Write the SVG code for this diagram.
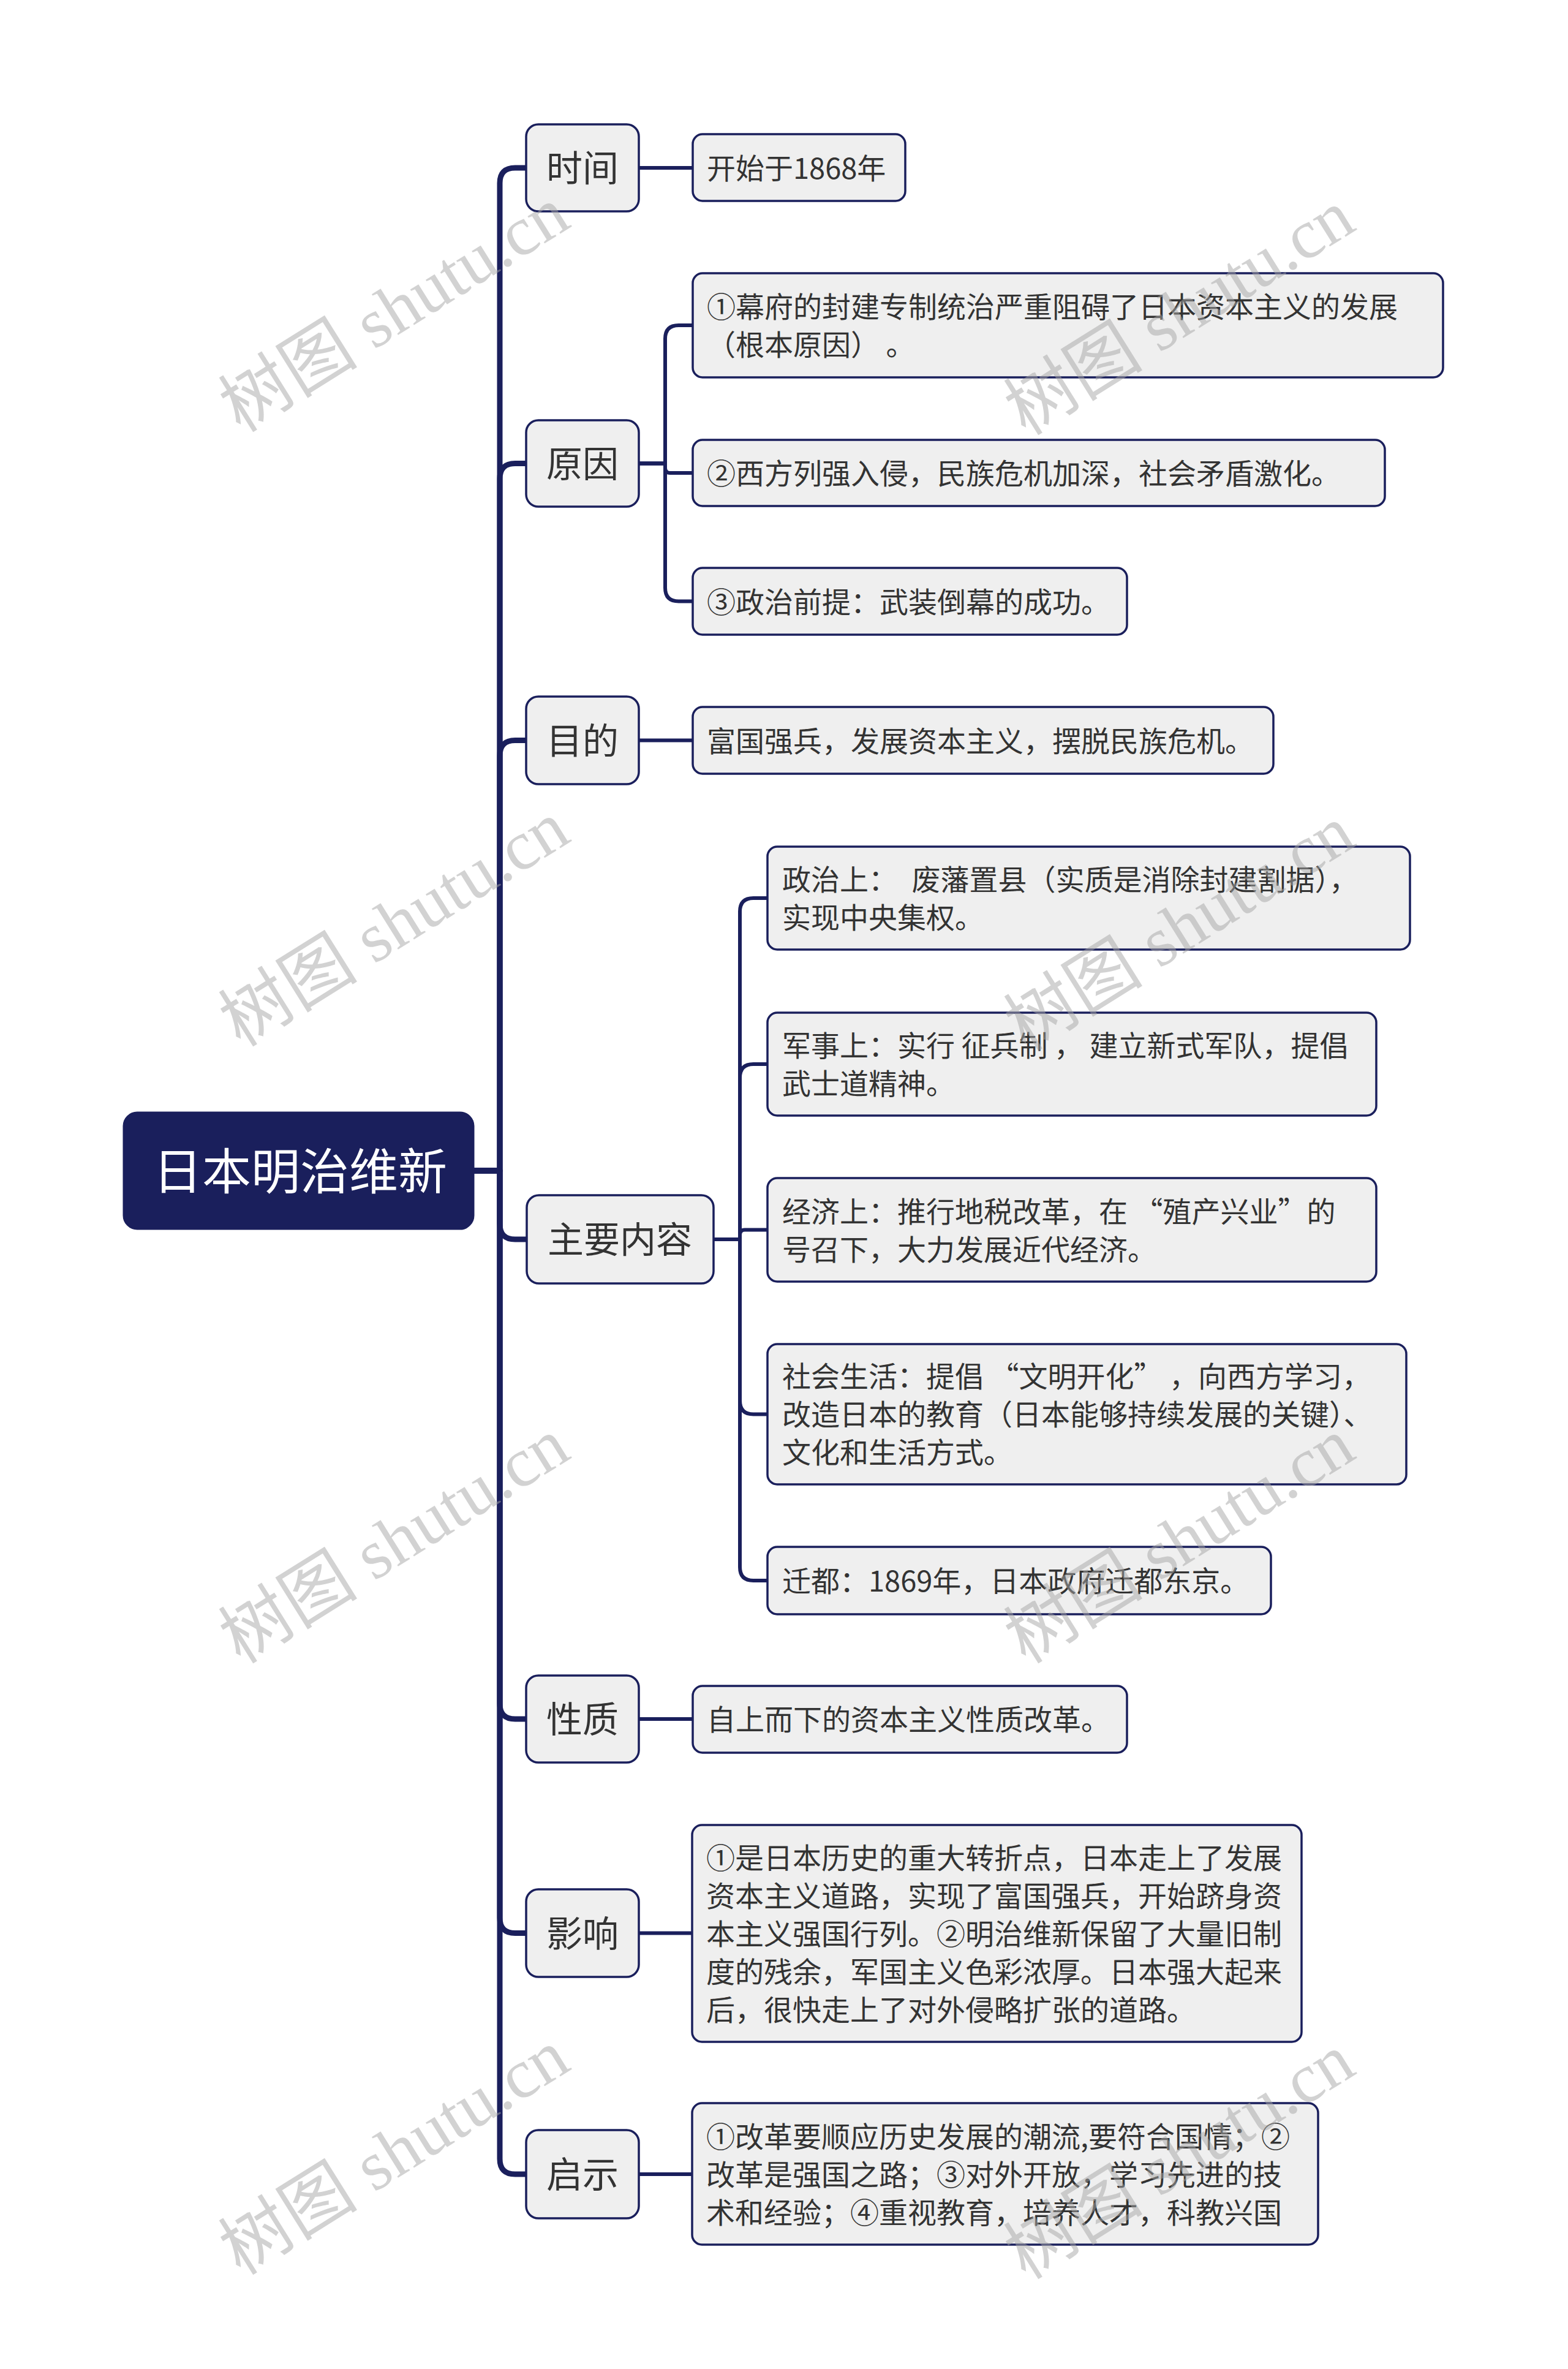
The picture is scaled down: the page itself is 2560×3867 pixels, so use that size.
<svg xmlns="http://www.w3.org/2000/svg" width="2560" height="3867" viewBox="0 0 2560 3867">
<style>
.bg{fill:#ffffff}
.root rect{fill:#1a1f5c;stroke:#1a1f5c;stroke-width:3}
.root text{fill:#ffffff;font-family:"Noto Sans CJK SC","Noto Sans",sans-serif;font-size:80px;text-anchor:middle}
.l1 rect{fill:#efefef;stroke:#1a1f5c;stroke-width:3.5}
.l1 text{fill:#333333;font-family:"Noto Sans CJK SC","Noto Sans",sans-serif;font-size:59px;text-anchor:middle}
.l2 rect{fill:#efefef;stroke:#1a1f5c;stroke-width:3.5}
.l2 text{fill:#333333;font-family:"Noto Sans CJK SC","Noto Sans",sans-serif;font-size:47px}
.c1{fill:none;stroke:#1a1f5c;stroke-width:9;stroke-linecap:round;stroke-linejoin:round}
.c2{fill:none;stroke:#1a1f5c;stroke-width:6;stroke-linecap:round;stroke-linejoin:round}
.wm text{fill:#a6a6a6;fill-opacity:0.5;font-family:"Liberation Serif","Noto Sans CJK SC",serif;font-size:114px;text-anchor:middle}
</style>
<rect class="bg" x="0" y="0" width="2560" height="3867"/>

<g id="connectors">
  <path class="c1" d="M773 1911 H816 V299 Q816 274 841 274 H860"/>
  <path class="c1" d="M773 1911 H816 V781.5 Q816 756.5 841 756.5 H860"/>
  <path class="c1" d="M773 1911 H816 V1233.5 Q816 1208.5 841 1208.5 H860"/>
  <path class="c1" d="M773 1911 H816 V1998 Q816 2023 841 2023 H860"/>
  <path class="c1" d="M773 1911 H816 V2781 Q816 2806 841 2806 H860"/>
  <path class="c1" d="M773 1911 H816 V3130.5 Q816 3155.5 841 3155.5 H860"/>
  <path class="c1" d="M773 1911 H816 V3524 Q816 3549 841 3549 H860"/>

  <path class="c2" d="M1043 274 H1131"/>
  <path class="c2" d="M1043 756.5 H1086 V553 Q1086 531 1108 531 H1131"/>
  <path class="c2" d="M1043 756.5 H1086 V764 Q1086 772 1094 772 H1131"/>
  <path class="c2" d="M1043 756.5 H1086 V959.5 Q1086 981.5 1108 981.5 H1131"/>
  <path class="c2" d="M1043 1208.5 H1131"/>
  <path class="c2" d="M1165 2023 H1208 V1488 Q1208 1466 1230 1466 H1253"/>
  <path class="c2" d="M1165 2023 H1208 V1759 Q1208 1737 1230 1737 H1253"/>
  <path class="c2" d="M1165 2023 H1208 V2015.5 Q1208 2007.5 1216 2007.5 H1253"/>
  <path class="c2" d="M1165 2023 H1208 V2286.5 Q1208 2308.5 1230 2308.5 H1253"/>
  <path class="c2" d="M1165 2023 H1208 V2558 Q1208 2580 1230 2580 H1253"/>
  <path class="c2" d="M1043 2806 H1131"/>
  <path class="c2" d="M1043 3155.5 H1130"/>
  <path class="c2" d="M1043 3549 H1130"/>
</g>

<g id="root" class="root">
  <rect x="202" y="1816" width="571" height="190" rx="22"/>
  <text x="490" y="1941">日本明治维新</text>
</g>

<g id="n-time" class="l1">
  <rect x="859" y="203" width="184" height="142" rx="20"/>
  <text x="951" y="296">时间</text>
</g>
<g id="n-cause" class="l1">
  <rect x="859" y="686" width="184" height="141" rx="20"/>
  <text x="951" y="779">原因</text>
</g>
<g id="n-goal" class="l1">
  <rect x="859" y="1137" width="184" height="143" rx="20"/>
  <text x="951" y="1231">目的</text>
</g>
<g id="n-content" class="l1">
  <rect x="860" y="1951" width="305" height="144" rx="20"/>
  <text x="1012" y="2045">主要内容</text>
</g>
<g id="n-nature" class="l1">
  <rect x="859" y="2735" width="184" height="142" rx="20"/>
  <text x="951" y="2828">性质</text>
</g>
<g id="n-impact" class="l1">
  <rect x="859" y="3084" width="184" height="143" rx="20"/>
  <text x="951" y="3178">影响</text>
</g>
<g id="n-lesson" class="l1">
  <rect x="859" y="3477" width="184" height="144" rx="20"/>
  <text x="951" y="3571">启示</text>
</g>

<g id="t-time" class="l2">
  <rect x="1131" y="219" width="347" height="109" rx="16"/>
  <text x="1154" y="292">开始于1868年</text>
</g>
<g id="t-cause1" class="l2">
  <rect x="1131" y="446" width="1225" height="170" rx="16"/>
  <text x="1154" y="518">①幕府的封建专制统治严重阻碍了日本资本主义的发展</text>
  <text x="1154" y="580" xml:space="preserve">（根本原因） 。</text>
</g>
<g id="t-cause2" class="l2">
  <rect x="1131" y="718" width="1130" height="108" rx="16"/>
  <text x="1154" y="790">②西方列强入侵，民族危机加深，社会矛盾激化。</text>
</g>
<g id="t-cause3" class="l2">
  <rect x="1131" y="927" width="709" height="109" rx="16"/>
  <text x="1154" y="1000">③政治前提：武装倒幕的成功。</text>
</g>
<g id="t-goal" class="l2">
  <rect x="1131" y="1154" width="948" height="109" rx="16"/>
  <text x="1154" y="1227">富国强兵，发展资本主义，摆脱民族危机。</text>
</g>
<g id="t-politics" class="l2">
  <rect x="1253" y="1382" width="1049" height="168" rx="16"/>
  <text x="1277" y="1453" xml:space="preserve">政治上：　废藩置县（实质是消除封建割据），</text>
  <text x="1277" y="1515">实现中央集权。</text>
</g>
<g id="t-military" class="l2">
  <rect x="1253" y="1653" width="994" height="168" rx="16"/>
  <text x="1277" y="1724" xml:space="preserve">军事上：实行 征兵制 ， 建立新式军队，提倡</text>
  <text x="1277" y="1786">武士道精神。</text>
</g>
<g id="t-economy" class="l2">
  <rect x="1253" y="1923" width="994" height="169" rx="16"/>
  <text x="1277" y="1995" xml:space="preserve">经济上：推行地税改革，在 “殖产兴业”的</text>
  <text x="1277" y="2057">号召下，大力发展近代经济。</text>
</g>
<g id="t-society" class="l2">
  <rect x="1253" y="2194" width="1043" height="229" rx="16"/>
  <text x="1277" y="2264" xml:space="preserve">社会生活：提倡 “文明开化” ，向西方学习，</text>
  <text x="1277" y="2326">改造日本的教育（日本能够持续发展的关键）、</text>
  <text x="1277" y="2388">文化和生活方式。</text>
</g>
<g id="t-capital" class="l2">
  <rect x="1253" y="2525" width="822" height="110" rx="16"/>
  <text x="1277" y="2598">迁都：1869年，日本政府迁都东京。</text>
</g>
<g id="t-nature" class="l2">
  <rect x="1131" y="2752" width="709" height="109" rx="16"/>
  <text x="1154" y="2824">自上而下的资本主义性质改革。</text>
</g>
<g id="t-impact" class="l2">
  <rect x="1130" y="2979" width="995" height="354" rx="16"/>
  <text x="1153" y="3050">①是日本历史的重大转折点，日本走上了发展</text>
  <text x="1153" y="3112">资本主义道路，实现了富国强兵，开始跻身资</text>
  <text x="1153" y="3174">本主义强国行列。②明治维新保留了大量旧制</text>
  <text x="1153" y="3236">度的残余，军国主义色彩浓厚。日本强大起来</text>
  <text x="1153" y="3298">后，很快走上了对外侵略扩张的道路。</text>
</g>
<g id="t-lesson" class="l2">
  <rect x="1130" y="3433" width="1022" height="231" rx="16"/>
  <text x="1153" y="3505">①改革要顺应历史发展的潮流,要符合国情；②</text>
  <text x="1153" y="3567">改革是强国之路；③对外开放，学习先进的技</text>
  <text x="1153" y="3629">术和经验；④重视教育，培养人才，科教兴国</text>
</g>

<g id="watermarks" class="wm">
  <text transform="translate(664 538) rotate(-32)">树图 shutu.cn</text>
  <text transform="translate(1946 543) rotate(-32)">树图 shutu.cn</text>
  <text transform="translate(664 1541) rotate(-32)">树图 shutu.cn</text>
  <text transform="translate(1946 1548) rotate(-32)">树图 shutu.cn</text>
  <text transform="translate(664 2548) rotate(-32)">树图 shutu.cn</text>
  <text transform="translate(1946 2548) rotate(-32)">树图 shutu.cn</text>
  <text transform="translate(664 3546) rotate(-32)">树图 shutu.cn</text>
  <text transform="translate(1946 3553) rotate(-32)">树图 shutu.cn</text>
</g>
</svg>
